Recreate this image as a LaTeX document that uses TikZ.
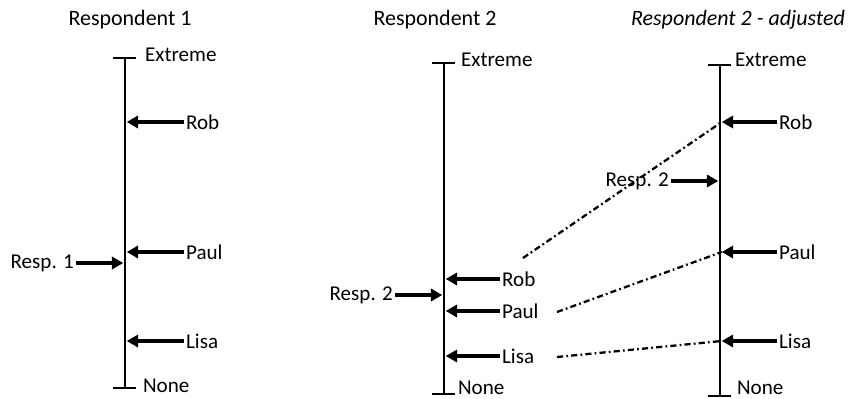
\documentclass[tikz,border=0pt]{standalone}
\usepackage{fontspec}
\setmainfont{Carlito}
\usetikzlibrary{arrows.meta}

\begin{document}
\begin{tikzpicture}[x=0.02cm, y=-0.02cm,
    scalelbl/.style={inner sep=1pt, font=\fontsize{12}{14}\selectfont},
    ttl/.style={inner sep=1pt, font=\fontsize{12.5}{15}\selectfont},
    axisline/.style={line width=0.8pt},
    pointer/.style={line width=1.8pt, -{Triangle[length=6.5pt,width=7pt]}},
    moveline/.style={line width=1.3pt, dash pattern=on 3.5pt off 1.8pt on 1pt off 1.8pt}]
    \useasboundingbox (0,0) rectangle (849,399);
    % Respondent 1
    \node[ttl] (ttl1) at (130,20) {Respondent 1};
    \coordinate (top1) at (125,58);
    \coordinate (bot1) at (125,388);
    \draw[axisline] (top1) -- (bot1);
    \draw[axisline] (top1) ++(-12,0) -- ++(23,0);
    \draw[axisline] (bot1) ++(-12,0) -- ++(23,0);
    \node[scalelbl, anchor=west] (ext1) at (143,55) {Extreme};
    \node[scalelbl, anchor=west] (none1) at (141,386) {None};
    \node[scalelbl, anchor=west] (rob1) at (184,122) {Rob};
    \node[scalelbl, anchor=west] (paul1) at (184,252) {Paul};
    \node[scalelbl, anchor=west] (lisa1) at (184,341) {Lisa};
    \node[scalelbl, anchor=east] (resp1) at (76,263) {Resp. 1};
    \draw[pointer] (rob1.west) -- ([xshift=1pt]rob1.west -| top1);
    \draw[pointer] (paul1.west) -- ([xshift=1pt]paul1.west -| top1);
    \draw[pointer] (lisa1.west) -- ([xshift=1pt]lisa1.west -| top1);
    \draw[pointer] (resp1.east) -- ([xshift=-1pt]resp1.east -| top1);

    % Respondent 2
    \node[ttl] (ttl2) at (435,20) {Respondent 2};
    \coordinate (top2) at (444,63);
    \coordinate (bot2) at (444,394);
    \draw[axisline] (top2) -- (bot2);
    \draw[axisline] (top2) ++(-12,0) -- ++(23,0);
    \draw[axisline] (bot2) ++(-12,0) -- ++(23,0);
    \node[scalelbl, anchor=west] (ext2) at (459,60) {Extreme};
    \node[scalelbl, anchor=west] (none2) at (456,388) {None};
    \node[scalelbl, anchor=west] (rob2) at (500,279) {Rob};
    \node[scalelbl, anchor=west] (paul2) at (500,311) {Paul};
    \node[scalelbl, anchor=west] (lisa2) at (500,356) {Lisa};
    \node[scalelbl, anchor=east] (resp2) at (395,295) {Resp. 2};
    \draw[pointer] (rob2.west) -- ([xshift=1pt]rob2.west -| top2);
    \draw[pointer] (paul2.west) -- ([xshift=1pt]paul2.west -| top2);
    \draw[pointer] (lisa2.west) -- ([xshift=1pt]lisa2.west -| top2);
    \draw[pointer] (resp2.east) -- ([xshift=-1pt]resp2.east -| top2);

    % Respondent 2 - adjusted
    \node[ttl, font=\fontsize{12.5}{15}\selectfont\itshape] (ttl3) at (738,20) {Respondent 2 - adjusted};
    \coordinate (top3) at (720,65);
    \coordinate (bot3) at (720,396);
    \draw[axisline] (top3) -- (bot3);
    \draw[axisline] (top3) ++(-12,0) -- ++(23,0);
    \draw[axisline] (bot3) ++(-12,0) -- ++(23,0);
    \node[scalelbl, anchor=west] (ext3) at (733,60) {Extreme};
    \node[scalelbl, anchor=west] (none3) at (735,388) {None};
    \node[scalelbl, anchor=west] (rob3) at (777,122) {Rob};
    \node[scalelbl, anchor=west] (paul3) at (777,252) {Paul};
    \node[scalelbl, anchor=west] (lisa3) at (777,341) {Lisa};
    \node[scalelbl, anchor=east] (resp3) at (671,181) {Resp. 2};
    \coordinate (hit3r) at ([xshift=1pt]rob3.west -| top3);
    \coordinate (hit3p) at ([xshift=1pt]paul3.west -| top3);
    \coordinate (hit3l) at ([xshift=1pt]lisa3.west -| top3);
    \draw[pointer] (rob3.west) -- (hit3r);
    \draw[pointer] (paul3.west) -- (hit3p);
    \draw[pointer] (lisa3.west) -- (hit3l);
    \draw[pointer] (resp3.east) -- ([xshift=-1pt]resp3.east -| top3);

    % shifts between the two scales
    \coordinate (from2r) at (523,258);
    \coordinate (from2p) at (557,312);
    \coordinate (from2l) at (557,357);
    \draw[moveline] (from2r) -- (hit3r);
    \draw[moveline] (from2p) -- (hit3p);
    \draw[moveline] (from2l) -- (hit3l);
\end{tikzpicture}
\end{document}
